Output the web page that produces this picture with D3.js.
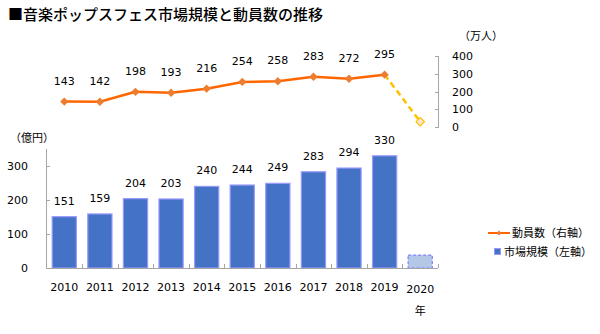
<!DOCTYPE html>
<html>
<head>
<meta charset="utf-8">
<script src="https://cdn.jsdelivr.net/npm/d3@7"></script>
<style>
  html, body { margin: 0; padding: 0; background: #fff; }
  svg { display: block; }
  text { font-family: "DejaVu Sans", Verdana, sans-serif; fill: #000; }
  .jp { font-family: "Noto Sans CJK JP", sans-serif; }
</style>
</head>
<body>
<svg id="chart" width="600" height="334"></svg>
<script>
// Years on the shared category axis
const years = ["2010", "2011", "2012", "2013", "2014", "2015", "2016", "2017", "2018", "2019", "2020"];
// Market size (億円), left axis; 2020 is an estimate drawn as a hollow bar
const marketSize = [151, 159, 204, 203, 240, 244, 249, 283, 294, 330, 38];
// Attendance (万人), right axis; 2020 is an estimate drawn dashed
const attendance = [143, 142, 198, 193, 216, 254, 258, 283, 272, 295, 30];
const leftTicks = [0, 100, 200, 300];
const rightTicks = [0, 100, 200, 300, 400];
const lastActual = 9; // index of 2019

const svg = d3.select("#chart");

// Title
svg.append("text").attr("class", "jp")
  .attr("x", 8).attr("y", 20)
  .style("font-size", "15px").style("font-weight", "500")
  .text("■音楽ポップスフェス市場規模と動員数の推移");

const x = d3.scaleBand().domain(years).range([46.5, 438]).paddingInner(0.32).paddingOuter(0.16);
const yBar = d3.scaleLinear().domain([0, 350]).range([268, 149]);
const yLine = d3.scaleLinear().domain([0, 400]).range([127, 56]);

const axisColor = "#a6a6a6";

// Bars
const bars = svg.append("g");
bars.selectAll("rect").data(marketSize).join("rect")
  .attr("x", (d, i) => x(years[i]))
  .attr("y", d => yBar(d))
  .attr("width", x.bandwidth())
  .attr("height", d => yBar(0) - yBar(d))
  .attr("fill", (d, i) => i > lastActual ? "#b4c7e7" : "#4472c4")
  .attr("stroke", (d, i) => i > lastActual ? "#8080ff" : "#9999ff")
  .attr("stroke-width", 1.2)
  .attr("stroke-dasharray", (d, i) => i > lastActual ? "3,2" : null);

// Bar value labels
bars.selectAll("text").data(marketSize.slice(0, lastActual + 1)).join("text")
  .attr("x", (d, i) => x(years[i]) + x.bandwidth() / 2)
  .attr("y", d => yBar(d) - 12)
  .attr("text-anchor", "middle")
  .style("font-size", "11px")
  .text(d => d);

// Bottom axis
const xAxis = svg.append("g");
xAxis.append("line").attr("x1", 46.5).attr("x2", 438).attr("y1", 268.5).attr("y2", 268.5)
  .attr("stroke", axisColor);
const tickPos = years.map(y => x(y) - x.step() * x.paddingInner() / 2).concat([438]);
xAxis.selectAll("line.t").data(tickPos).join("line").attr("class", "t")
  .attr("x1", d => Math.round(d) + 0.5).attr("x2", d => Math.round(d) + 0.5)
  .attr("y1", 268).attr("y2", 264).attr("stroke", axisColor);
xAxis.selectAll("text").data(years).join("text")
  .attr("x", d => x(d) + x.bandwidth() / 2)
  .attr("y", (d, i) => i > lastActual ? 293 : 291)
  .attr("text-anchor", "middle")
  .style("font-size", "11px")
  .text(d => d);
svg.append("text").attr("class", "jp")
  .attr("x", x("2020") + x.bandwidth() / 2).attr("y", 315)
  .attr("text-anchor", "middle").style("font-size", "11px").text("年");

// Left axis
const lAxis = svg.append("g");
lAxis.append("line").attr("x1", 46.5).attr("x2", 46.5).attr("y1", 149).attr("y2", 268)
  .attr("stroke", axisColor);
lAxis.selectAll("line.t").data(leftTicks).join("line").attr("class", "t")
  .attr("x1", 46).attr("x2", 50)
  .attr("y1", d => Math.round(yBar(d)) + 0.5).attr("y2", d => Math.round(yBar(d)) + 0.5)
  .attr("stroke", axisColor);
lAxis.selectAll("text").data(leftTicks).join("text")
  .attr("x", 28).attr("y", d => yBar(d) + 4)
  .attr("text-anchor", "end").style("font-size", "11px")
  .text(d => d);
svg.append("text").attr("class", "jp")
  .attr("x", 10).attr("y", 142).style("font-size", "11px").text("（億円）");

// Right axis
const rAxis = svg.append("g");
rAxis.append("line").attr("x1", 438.5).attr("x2", 438.5).attr("y1", 56).attr("y2", 127)
  .attr("stroke", axisColor);
rAxis.selectAll("line.t").data(rightTicks).join("line").attr("class", "t")
  .attr("x1", 435).attr("x2", 439)
  .attr("y1", d => Math.round(yLine(d)) + 0.5).attr("y2", d => Math.round(yLine(d)) + 0.5)
  .attr("stroke", axisColor);
rAxis.selectAll("text").data(rightTicks).join("text")
  .attr("x", 452).attr("y", d => yLine(d) + 4)
  .style("font-size", "11px")
  .text(d => d);
svg.append("text").attr("class", "jp")
  .attr("x", 459).attr("y", 40).style("font-size", "11px").text("（万人）");

// Attendance line
const cx = i => x(years[i]) + x.bandwidth() / 2;
const line = d3.line().x((d, i) => cx(i)).y(d => yLine(d));
const actual = attendance.slice(0, lastActual + 1);
svg.append("path")
  .attr("d", line(actual))
  .attr("fill", "none").attr("stroke", "#ff6600").attr("stroke-width", 2.5);
svg.append("path")
  .attr("d", d3.line().x(d => cx(d)).y(d => yLine(attendance[d]))([lastActual, lastActual + 1]))
  .attr("fill", "none").attr("stroke", "#ffc000").attr("stroke-width", 2.5)
  .attr("stroke-dasharray", "6,4");

const diamond = d3.symbol().type(d3.symbolDiamond2).size(45);
svg.append("g").selectAll("path").data(actual).join("path")
  .attr("transform", (d, i) => `translate(${cx(i)},${yLine(d)})`)
  .attr("d", diamond)
  .attr("fill", "#ed7d31");
svg.append("path")
  .attr("transform", `translate(${cx(lastActual + 1)},${yLine(attendance[lastActual + 1])})`)
  .attr("d", diamond)
  .attr("fill", "#fbe5d6").attr("stroke", "#ffc000").attr("stroke-width", 1.2);

svg.append("g").selectAll("text").data(actual).join("text")
  .attr("x", (d, i) => cx(i))
  .attr("y", d => yLine(d) - 17)
  .attr("text-anchor", "middle").style("font-size", "11px")
  .text(d => d);

// Legend
const lg = svg.append("g");
lg.append("line").attr("x1", 488).attr("x2", 510).attr("y1", 233).attr("y2", 233)
  .attr("stroke", "#ff6600").attr("stroke-width", 2);
lg.append("path").attr("transform", "translate(499,233)")
  .attr("d", d3.symbol().type(d3.symbolDiamond2).size(16)).attr("fill", "#ed7d31");
lg.append("text").attr("class", "jp").attr("x", 512).attr("y", 237)
  .style("font-size", "11px").text("動員数（右軸）");
lg.append("rect").attr("x", 494.5).attr("y", 248.5).attr("width", 6).attr("height", 6)
  .attr("fill", "#4472c4").attr("stroke", "#9999ff");
lg.append("text").attr("class", "jp").attr("x", 504).attr("y", 256)
  .style("font-size", "11px").text("市場規模（左軸）");
</script>
</body>
</html>
